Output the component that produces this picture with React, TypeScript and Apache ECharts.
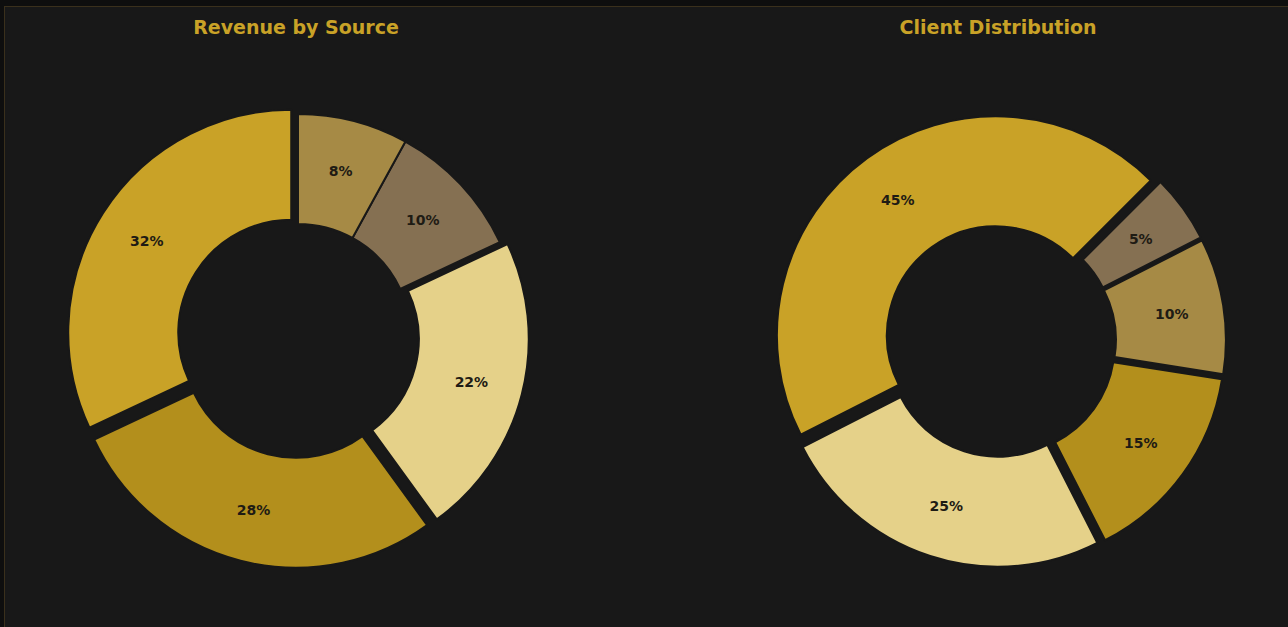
import React, { useEffect, useRef } from "react";
import * as echarts from "echarts";

const revenueCategories = ["Consulting", "Product Sales", "Subscriptions", "Licensing", "Other"];
const revenueValues = [32, 28, 22, 10, 8];
const revenuePulled = [true, true, true, false, false];
const revenueColors = ["#C9A227", "#B38F1C", "#E5D189", "#857052", "#A68A45"];

const clientCategories = ["Enterprise", "Mid-Market", "Small Business", "Government", "Non-Profit"];
const clientValues = [45, 25, 15, 10, 5];
const clientPulled = [true, true, true, true, true];
const clientColors = ["#C9A227", "#E5D189", "#B38F1C", "#A68A45", "#857052"];

const BG = "#181818";

function buildData(names: string[], values: number[], colors: string[], pulled: boolean[]) {
  return names.map((n, i) => ({
    name: n,
    value: values[i],
    selected: pulled[i],
    itemStyle: { color: colors[i] },
  }));
}

export default function App() {
  const ref = useRef<HTMLDivElement>(null);

  useEffect(() => {
    document.body.style.margin = "0";
    document.body.style.background = "#0e0e0e";
    if (!ref.current) return;
    const chart = echarts.init(ref.current, null, { renderer: "svg" });
    const labelCfg = {
      show: true,
      position: "inside",
      formatter: (p: any) => `${p.value}%`,
      color: "#1e1b14",
      fontFamily: "DejaVu Sans",
      fontWeight: "bold",
      fontSize: 14,
    };
    const common = {
      type: "pie",
      clockwise: false,
      selectedMode: "multiple",
      avoidLabelOverlap: false,
      labelLine: { show: false },
      emphasis: { disabled: true },
      select: { itemStyle: { borderColor: BG, borderWidth: 2 } },
      itemStyle: { borderColor: BG, borderWidth: 2 },
      label: labelCfg,
    };
    const titleStyle = { color: "#C9A227", fontFamily: "DejaVu Sans", fontWeight: "bold", fontSize: 19 };
    chart.setOption({
      animation: false,
      backgroundColor: "transparent",
      title: [
        { text: "Revenue by Source", left: 291, top: 12, textAlign: "center", textStyle: titleStyle },
        { text: "Client Distribution", left: 993, top: 12, textAlign: "center", textStyle: titleStyle },
      ],
      series: [
        {
          ...common,
          name: "Revenue by Source",
          center: [298, 337],
          radius: [113, 223],
          startAngle: 90,
          selectedOffset: 8,
          data: buildData(revenueCategories, revenueValues, revenueColors, revenuePulled),
        },
        {
          ...common,
          name: "Client Distribution",
          center: [1000, 341],
          radius: [109, 219],
          startAngle: 45,
          selectedOffset: 7,
          data: buildData(clientCategories, clientValues, clientColors, clientPulled),
        },
      ],
    });
    return () => chart.dispose();
  }, []);

  return (
    <div style={{ position: "relative", width: 1288, height: 627, overflow: "hidden", background: "#0e0e0e" }}>
      <div
        style={{
          position: "absolute",
          left: 4,
          top: 6,
          width: 1320,
          height: 660,
          border: "1px solid #3a301c",
          background: BG,
        }}
      />
      <div ref={ref} style={{ position: "absolute", left: 0, top: 0, width: 1288, height: 627 }} />
    </div>
  );
}
